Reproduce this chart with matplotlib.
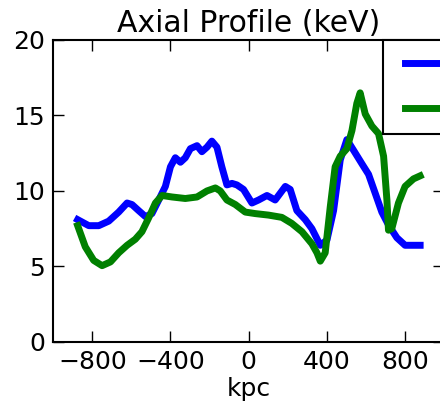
import numpy as np
import matplotlib
matplotlib.use('Agg')
import matplotlib.pyplot as plt
from matplotlib.legend_handler import HandlerLine2D

# blue profile (kpc, keV)
x_blue = [-875, -818, -767, -716, -665, -622, -597, -563, -528, -495, -460, -426,
          -400, -375, -349, -324, -298, -264, -239, -213, -188, -162, -137, -111,
          -85, -60, -26, 17, 51, 94, 136, 188, 213, 247, 290, 324, 367, 401, 435,
          469, 503, 537, 580, 614, 648, 682, 716, 759, 801, 878]
t_blue = [8.1, 7.7, 7.7, 8.0, 8.6, 9.2, 9.1, 8.7, 8.3, 8.5, 9.4, 10.3,
          11.6, 12.2, 11.9, 12.2, 12.8, 13.0, 12.6, 12.9, 13.3, 12.9, 11.6, 10.4,
          10.5, 10.4, 10.1, 9.2, 9.4, 9.7, 9.4, 10.3, 10.1, 8.7, 8.1, 7.5, 6.4, 6.75, 8.7,
          12.05, 13.4, 12.7, 11.8, 11.1, 9.85, 8.6, 7.75, 6.9, 6.4, 6.4]

# green profile (kpc, keV)
x_green = [-875, -836, -793, -750, -707, -665, -622, -580, -546, -512, -477, -443,
           -392, -324, -264, -213, -170, -145, -111, -68, -17, 34, 102, 170, 221,
           273, 324, 350, 367, 392, 418, 443, 469, 503, 529, 554, 571, 597, 631,
           665, 691, 708, 716, 733, 767, 801, 844, 878]
t_green = [7.7, 6.3, 5.4, 5.05, 5.3, 5.9, 6.4, 6.8, 7.3, 8.2, 9.2, 9.7,
           9.6, 9.5, 9.6, 10.0, 10.2, 10.0, 9.4, 9.1, 8.6, 8.5, 8.4, 8.25, 7.85,
           7.3, 6.5, 5.9, 5.35, 5.9, 8.95, 11.6, 12.3, 12.8, 14.0, 15.8, 16.5, 15.1, 14.3,
           13.8, 12.3, 9.4, 7.4, 7.5, 9.2, 10.3, 10.8, 11.0]

xticks = [-800, -400, 0, 400, 800]
yticks = [0, 5, 10, 15, 20]

plt.rc('font', family='DejaVu Sans', size=18)

fig = plt.figure(figsize=(4.4, 4.08), dpi=100)
# axes runs a bit past the right edge, like the cropped original
ax = fig.add_axes([0.121, 0.162, 0.888, 0.740])

ax.plot(x_blue, t_blue, color='#0000ff', linewidth=5, label='sim')
ax.plot(x_green, t_green, color='#008000', linewidth=5, label='obs')

ax.set_xlim(-1000, 1000)
ax.set_ylim(0, 20)
ax.set_xticks(xticks)
ax.set_yticks(yticks)
ax.tick_params(direction='in', top=True, right=True, length=8, width=1, labelsize=18, pad=6)
for sp in ax.spines.values():
    sp.set_linewidth(1.5)

ax.set_title('Axial Profile (keV)', fontsize=21.5, pad=6)
ax.set_xlabel('kpc', fontsize=18, labelpad=2)

##xpad shifts the legend lines a bit to the right inside the box
leg = ax.legend(loc='upper left', bbox_to_anchor=(0.843, 1.0), borderaxespad=0,
                fontsize=18, labelspacing=0.85, borderpad=0.5, handlelength=2.4,
                fancybox=False, framealpha=1,
                handler_map={plt.Line2D: HandlerLine2D(xpad=0.4)})
leg.get_frame().set_edgecolor('black')
leg.get_frame().set_linewidth(1.5)

fig.savefig('out.png', dpi=100)
